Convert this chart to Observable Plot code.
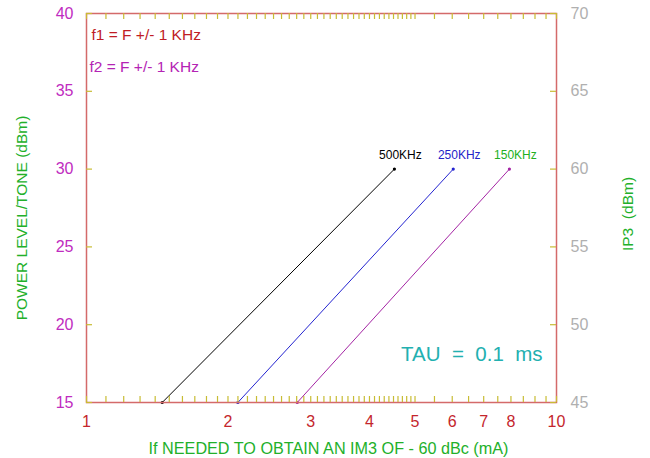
<!DOCTYPE html>
<html>
<head>
<meta charset="utf-8">
<script src="https://cdn.jsdelivr.net/npm/d3@7"></script>
<script src="https://cdn.jsdelivr.net/npm/@observablehq/plot@0.6"></script>
<style>
  html, body { margin: 0; padding: 0; background: #fff; }
  #chart svg { display: block; }
</style>
</head>
<body>
<div id="chart"></div>
<script>
// ---- data ----
const series = ["500KHz", "250KHz", "150KHz"];
const powerLevels = [15, 30];            // dBm/tone at the two ends of each line
const ifAtLow = [1.449, 2.099, 2.808];   // mA at 15 dBm
const ifAtHigh = [4.52, 6.03, 7.94];     // mA at 30 dBm
const lineColors = ["#000000", "#2424d0", "#a424a4"];
const labelColors = ["#000000", "#2424c8", "#22b022"];
const xTickLabels = [1, 2, 3, 4, 5, 6, 7, 8, 10];
const yTicks = [15, 20, 25, 30, 35, 40];
const ip3Offset = 30;                    // right axis = left axis + 30
const xMinorTicks = [...d3.range(1, 5, 0.1), ...d3.range(5, 10.001, 0.5)].map(v => +v.toFixed(2));

// ---- table built from arrays ----
const rows = [];
series.forEach((s, i) => {
  rows.push({series: s, x: ifAtLow[i], y: powerLevels[0], color: lineColors[i]});
  rows.push({series: s, x: ifAtHigh[i], y: powerLevels[1], color: lineColors[i]});
});
const ends = rows.filter(r => r.y === powerLevels[1]).map((r, i) => ({...r, label: r.series, lcolor: labelColors[i]}));

const W = 650, H = 458, mL = 86, mR = 94, mT = 13, mB = 56;
const plotW = W - mL - mR, plotH = H - mT - mB;
const FONT = "'Liberation Sans', Arial, sans-serif";
const tickCol = "#c8bc34", frameCol = "#d46a6a", green = "#22b02a";

const chart = Plot.plot({
  width: W, height: H,
  marginLeft: mL, marginRight: mR, marginTop: mT, marginBottom: mB,
  style: {fontFamily: FONT, background: "#fff"},
  x: {type: "log", domain: [1, 10]},
  y: {domain: [15, 40]},
  color: {type: "identity"},
  marks: [
    // axes tick labels
    Plot.axisX({ticks: xTickLabels, tickSize: 0, tickPadding: 13, tickFormat: d => String(d),
      fontSize: 16, color: "#c4262c", label: null}),
    Plot.axisY({ticks: yTicks, anchor: "left", tickSize: 0, tickPadding: 13, fontSize: 16,
      color: "#c02cc0", label: null}),
    Plot.axisY({ticks: yTicks, anchor: "right", tickSize: 0, tickPadding: 14, fontSize: 16,
      tickFormat: d => String(d + ip3Offset), color: "#b0b0b0", label: null}),
    // data lines
    Plot.line(rows, {x: "x", y: "y", z: "series", stroke: "color", strokeWidth: 1}),
    Plot.dot(rows, {x: "x", y: "y", r: 1.6, fill: "color", stroke: null}),
    Plot.text(ends, {x: "x", y: "y", text: "label", fill: "lcolor", dx: 6, dy: -14,
      fontSize: 12, textAnchor: "middle"}),
    // frame
    Plot.frame({stroke: frameCol, strokeWidth: 1.5}),
    // inward tick marks (bottom / top)
    Plot.tickX(xMinorTicks, {x: d => d, stroke: tickCol, strokeWidth: 1.2, insetTop: plotH - 6}),
    Plot.tickX(xMinorTicks, {x: d => d, stroke: tickCol, strokeWidth: 1.2, insetBottom: plotH - 6}),
    // inward tick marks (left / right)
    Plot.tickY(yTicks, {y: d => d, stroke: tickCol, strokeWidth: 1.2, insetRight: plotW - 6}),
    Plot.tickY(yTicks, {y: d => d, stroke: tickCol, strokeWidth: 1.2, insetLeft: plotW - 6}),
    // annotations
    Plot.text(["f1 = F +/- 1 KHz"], {frameAnchor: "top-left", text: d => d, dx: 5, dy: 22,
      textAnchor: "start", lineAnchor: "middle", fontSize: 15.5, fill: "#c01c24"}),
    Plot.text(["f2 = F +/- 1 KHz"], {frameAnchor: "top-left", text: d => d, dx: 3, dy: 54,
      textAnchor: "start", lineAnchor: "middle", fontSize: 15.5, fill: "#b424b4"}),
    Plot.text(["TAU\u00a0\u00a0=\u00a0\u00a00.1\u00a0\u00a0ms"], {frameAnchor: "bottom-right", text: d => d,
      dx: -14, dy: -48, textAnchor: "end", lineAnchor: "middle", fontSize: 20.5, fill: "#22b0b0"}),
    // axis titles
    Plot.text(["POWER LEVEL/TONE (dBm)"], {frameAnchor: "left", text: d => d, dx: -64, dy: 10,
      rotate: -90, textAnchor: "middle", lineAnchor: "middle", fontSize: 15.5, fill: green}),
    Plot.text(["IP3\u00a0\u00a0(dBm)"], {frameAnchor: "right", text: d => d, dx: 72, dy: 6,
      rotate: -90, textAnchor: "middle", lineAnchor: "middle", fontSize: 15.5, fill: green}),
    Plot.text(["If NEEDED TO OBTAIN AN IM3 OF - 60 dBc (mA)"], {frameAnchor: "bottom", text: d => d,
      dx: 7, dy: 46, textAnchor: "middle", lineAnchor: "middle", fontSize: 16.2, fill: green})
  ]
});
document.getElementById("chart").appendChild(chart);
</script>
</body>
</html>
